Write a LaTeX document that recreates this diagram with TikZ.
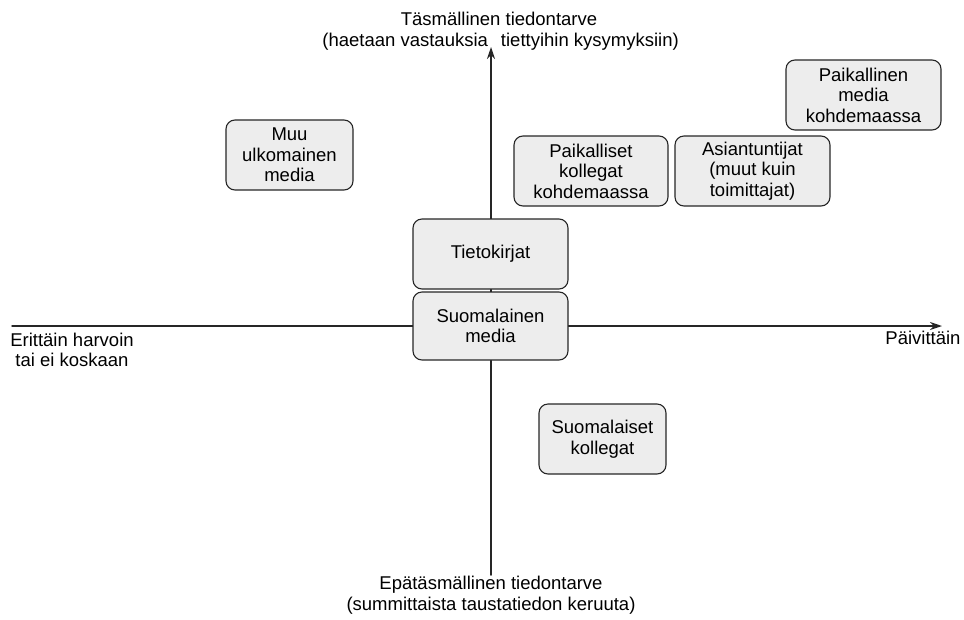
\documentclass[tikz,border=0pt]{standalone}
\usepackage{fontspec}
\setmainfont{Liberation Sans}
\usetikzlibrary{arrows.meta}
\begin{document}
\begin{tikzpicture}[x=1pt, y=-1pt, font=\fontsize{18.5}{20.5}\selectfont, line join=round, line cap=round, >={Stealth[length=12pt,width=8pt]},
    lahde/.style={draw=black!85, line width=1.1pt, rounded corners=9pt, fill=black!7, align=center, inner sep=2pt},
    akseli/.style={line width=1.5pt, black!85}]
    \useasboundingbox (0,0) rectangle (964,619);
    % akselit
    \coordinate (vasen) at (12,326);
    \coordinate (oikea) at (942,326);
    \coordinate (ala) at (491,575);
    \coordinate (yla) at (491,47);
    \draw[akseli, ->] (vasen) -- (oikea);
    \draw[akseli, ->] (ala) -- (yla);
    % akselien tekstit
    \node[align=center] (tasm) at (491,31) {\hspace*{16pt}Täsmällinen tiedontarve\\\makebox[0pt][r]{(haetaan vastauksia\hspace{3pt}}\makebox[0pt][l]{\hspace{10pt}tiettyihin kysymyksiin)}};
    \node[align=center] (epatasm) at (491,595) {Epätäsmällinen tiedontarve\\(summittaista taustatiedon keruuta)};
    \node[align=center] (harvoin) at (72,350) {Erittäin harvoin\\tai ei koskaan};
    \node (paivit) at (923,338) {Päivittäin};
    % lähteet
    \node[lahde, minimum width=127pt, minimum height=70pt] (muu) at (289.5,155) {Muu\\ulkomainen\\media};
    \node[lahde, minimum width=154pt, minimum height=70pt] (paikkol) at (591,171) {Paikalliset\\kollegat\\kohdemaassa};
    \node[lahde, minimum width=155pt, minimum height=70pt] (asiant) at (752.5,171) {Asiantuntijat\\(muut kuin\\toimittajat)};
    \node[lahde, minimum width=155pt, minimum height=70pt] (paikmed) at (863.5,95) {Paikallinen\\media\\kohdemaassa};
    \node[lahde, minimum width=155pt, minimum height=70pt] (tieto) at (490.5,254) {Tietokirjat};
    \node[lahde, minimum width=155pt, minimum height=68pt] (suomed) at (490.5,326) {Suomalainen\\media};
    \node[lahde, minimum width=127pt, minimum height=70pt] (suokol) at (602.5,439) {Suomalaiset\\kollegat};
\end{tikzpicture}
\end{document}
